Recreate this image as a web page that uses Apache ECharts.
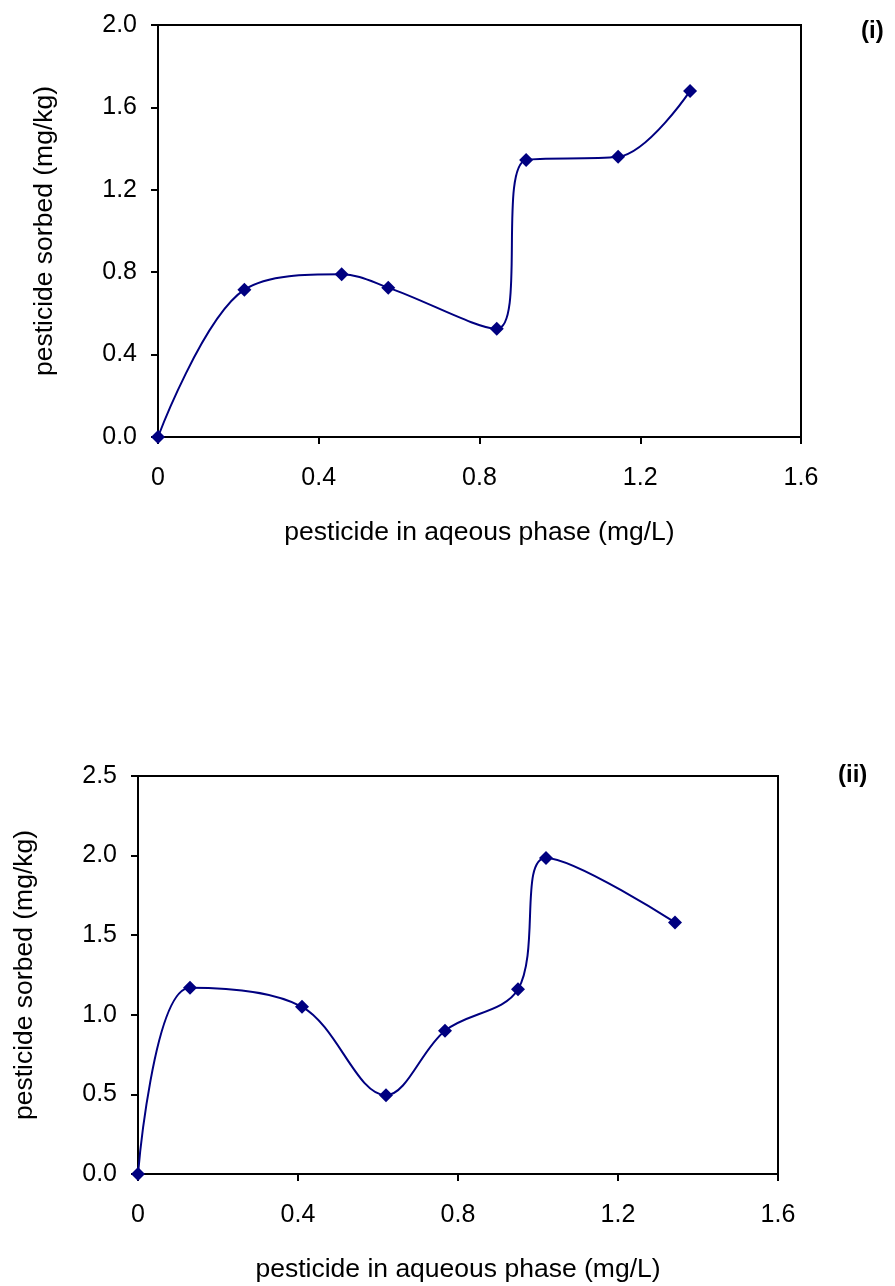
<!DOCTYPE html>
<html>
<head>
<meta charset="utf-8">
<script src="https://cdn.jsdelivr.net/npm/echarts@6/dist/echarts.min.js"></script>
<style>html,body{margin:0;padding:0;background:#fff;}#c{width:895px;height:1286px;}</style>
</head>
<body>
<div id="c"></div>
<script>
// Panel (i)
const x1 = [0, 0.215, 0.457, 0.573, 0.843, 0.916, 1.145, 1.324];
const y1 = [0, 0.715, 0.79, 0.725, 0.525, 1.345, 1.36, 1.68];
// Panel (ii)
const x2 = [0, 0.13, 0.41, 0.62, 0.7675, 0.95, 1.02, 1.3425];
const y2 = [0, 1.17, 1.05, 0.495, 0.9, 1.16, 1.985, 1.58];

const xTitle1 = 'pesticide in aqeous phase (mg/L)';
const xTitle2 = 'pesticide in aqueous phase (mg/L)';
const yTitle = 'pesticide sorbed (mg/kg)';
const panelLabels = ['(i)', '(ii)'];

const FONT = 'Liberation Sans, Arial, sans-serif';
const C = '#000080';

function pairs(xs, ys){ return xs.map((x,i)=>[x, ys[i]]); }

function xAxisCfg(gi, name){
  return {
    type:'value', gridIndex:gi, min:0, max:1.6, interval:0.4,
    name:name, nameLocation:'middle', nameGap:82,
    nameTextStyle:{fontFamily:FONT, fontSize:26.5, color:'#000'},
    axisLine:{show:true, onZero:false, lineStyle:{color:'#000', width:2}},
    axisTick:{show:true, inside:false, length:7, lineStyle:{color:'#000', width:2}},
    axisLabel:{fontFamily:FONT, fontSize:25, color:'#000', margin:29},
    splitLine:{show:false}
  };
}
function yAxisCfg(gi, max, interval){
  return {
    type:'value', gridIndex:gi, min:0, max:max, interval:interval,
    name:yTitle, nameLocation:'middle', nameGap:100, nameRotate:90,
    nameTextStyle:{fontFamily:FONT, fontSize:26.5, color:'#000'},
    axisLine:{show:true, onZero:false, lineStyle:{color:'#000', width:2}},
    axisTick:{show:true, inside:false, length:7, lineStyle:{color:'#000', width:2}},
    axisLabel:{fontFamily:FONT, fontSize:25, color:'#000', margin:21,
      formatter:v=>v.toFixed(1)},
    splitLine:{show:false}
  };
}
function seriesCfg(i, data){
  return {
    type:'line', xAxisIndex:i, yAxisIndex:i, data:data,
    smooth:0.35, symbol:'diamond', symbolSize:14,
    lineStyle:{color:C, width:2}, itemStyle:{color:C},
    clip:false, animation:false
  };
}

const chart = echarts.init(document.getElementById('c'), null, {renderer:'canvas'});
chart.setOption({
  animation:false,
  backgroundColor:'#fff',
  title:[
    {text:panelLabels[0], left:861, top:19, padding:0, textStyle:{fontFamily:FONT, fontSize:24, fontWeight:'bold', color:'#000'}},
    {text:panelLabels[1], left:838, top:763, padding:0, textStyle:{fontFamily:FONT, fontSize:24, fontWeight:'bold', color:'#000'}}
  ],
  grid:[
    {left:158, right:94, top:25, bottom:849, show:true, borderColor:'#000', borderWidth:2, backgroundColor:'transparent'},
    {left:138, right:117, top:776, bottom:112, show:true, borderColor:'#000', borderWidth:2, backgroundColor:'transparent'}
  ],
  xAxis:[xAxisCfg(0, xTitle1), xAxisCfg(1, xTitle2)],
  yAxis:[yAxisCfg(0, 2.0, 0.4), yAxisCfg(1, 2.5, 0.5)],
  series:[seriesCfg(0, pairs(x1,y1)), seriesCfg(1, pairs(x2,y2))]
});
</script>
</body>
</html>
